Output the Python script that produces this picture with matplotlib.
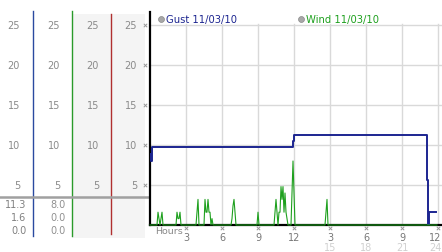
import numpy as np
import matplotlib.pyplot as plt
from matplotlib.transforms import blended_transform_factory as blend

# gust (steps), hours / value
gust_hours = [0.0, 0.08, 0.17, 11.92, 12.0, 23.08, 23.17, 23.25, 23.83]
gust_vals = [8.9, 8.0, 9.7, 10.5, 11.3, 5.6, 0.0, 1.6, 1.6]

# wind: non-zero samples on a 5 minute grid (index = minutes / 5)
wind_idx = [8, 9, 11, 12, 27, 28, 29, 30, 47, 48,
            55, 56, 57, 58, 59, 60, 62, 82, 83, 84, 85, 108,
            125, 126, 127, 129, 130, 131, 132, 133, 134, 135, 136, 137,
            142, 143, 144, 176, 177]
wind_vals = [1.6, 0.8, 0.8, 1.6, 1.6, 0.8, 0.8, 1.6, 1.6, 3.2,
             3.2, 1.6, 1.6, 3.2, 1.6, 1.6, 0.8, 0.8, 2.4, 3.2, 1.6, 1.6,
             1.6, 3.2, 1.6, 1.6, 1.6, 4.8, 3.2, 4.8, 1.6, 4.0, 1.6, 0.8,
             4.0, 8.0, 4.0, 1.6, 3.2]

y_levels = [5, 10, 15, 20, 25]
x_ticks = [3, 6, 9, 12, 15, 18, 21, 24]
x_top = ["3", "6", "9", "12", "3", "6", "9", "12"]
x_bottom = ["", "", "", "", "15", "18", "21", "24"]

gust_stats = ["11.3", "1.6", "0.0"]
wind_stats = ["8.0", "0.0", "0.0"]

navy = "#1c2590"
green = "#1ea01e"
grid = "#d9d9d9"
label = "#8a8a8a"

W, H = 442, 253
fig = plt.figure(figsize=(W / 100, H / 100), dpi=100)

# pixel axes for the left panel and labels
bg = fig.add_axes([0, 0, 1, 1])
bg.set_xlim(0, W)
bg.set_ylim(H, 0)
bg.axis("off")

ax = fig.add_axes([150 / W, (H - 226) / H, (W - 150) / W, 213 / H])
xmax = (W - 150) / 12
ax.set_xlim(0, xmax)
ax.set_ylim(0, 213 / 8)
ax.patch.set_alpha(0)
for s in ["top", "right"]:
    ax.spines[s].set_visible(False)
ax.spines["left"].set_linewidth(1.6)
ax.spines["bottom"].set_linewidth(1.6)
ax.set_xticks([])
ax.set_yticks([])

for v in y_levels:
    ax.axhline(v, color=grid, lw=1, zorder=0)
for t in x_ticks:
    ax.plot([t, t], [0, 25.1], color=grid, lw=1, zorder=0)

wind = np.zeros(288)
wind[wind_idx] = wind_vals
wind_t = np.arange(288) / 12
ax.step(gust_hours, gust_vals, where="post", color=navy, lw=1.4, zorder=3)
ax.plot(wind_t, wind, color=green, lw=0.8, zorder=4, clip_on=False)

# legend
bg.scatter([161], [20], s=18, color="#a8a8a8", edgecolors="#888888", lw=0.5)
bg.text(166, 20, "Gust 11/03/10", color=navy, fontsize=7.2, va="center")
bg.scatter([301], [20], s=18, color="#a8a8a8", edgecolors="#888888", lw=0.5)
bg.text(306, 20, "Wind 11/03/10", color=green, fontsize=7.2, va="center")

# y tick marks and x tick labels
ty = blend(bg.transData, ax.transData)
tx = blend(ax.transData, bg.transData)
bg.scatter([145] * len(y_levels), y_levels, transform=ty, marker="x",
           s=6, color="#999999", lw=0.7)
ax.scatter(x_ticks, [229] * len(x_ticks), transform=tx, marker="x",
           s=6, color="#999999", lw=0.7, clip_on=False)
for t, a, b in zip(x_ticks, x_top, x_bottom):
    ha = "center"
    if t == x_ticks[-1]:
        t, ha = xmax - 0.02, "right"
    ax.text(t, 238, a, transform=tx, ha=ha, va="center",
            fontsize=7, color="#777777")
    ax.text(t, 248.5, b, transform=tx, ha=ha, va="center",
            fontsize=7, color="#d0d0d0")
ax.text(0.4, 232, "Hours", transform=tx, ha="left", va="center",
        fontsize=6.8, color="#888888")

# left columns
bg.add_patch(plt.Rectangle((72, 15), 73, 224, color="#f4f4f4", lw=0, zorder=0))
bg.plot([33, 33], [12, 237], color="#2a4aa0", lw=1)
bg.plot([72, 72], [12, 237], color="#2a9a2a", lw=1)
bg.plot([111, 111], [15, 235], color="#b03030", lw=1)
bg.plot([0, 149], [198, 198], color="#a0a0a0", lw=1.8)
for xr in [20, 60, 99, 137]:
    for v in y_levels:
        bg.text(xr, v, str(v), transform=ty, ha="right", va="center",
                fontsize=7, color=label)
for i, (g, w) in enumerate(zip(gust_stats, wind_stats)):
    y = 205 + i * 13
    bg.text(26.5, y, g, ha="right", va="center", fontsize=7, color="#808080")
    bg.text(66, y, w, ha="right", va="center", fontsize=7, color="#909090")

fig.savefig("out.png", dpi=100)
